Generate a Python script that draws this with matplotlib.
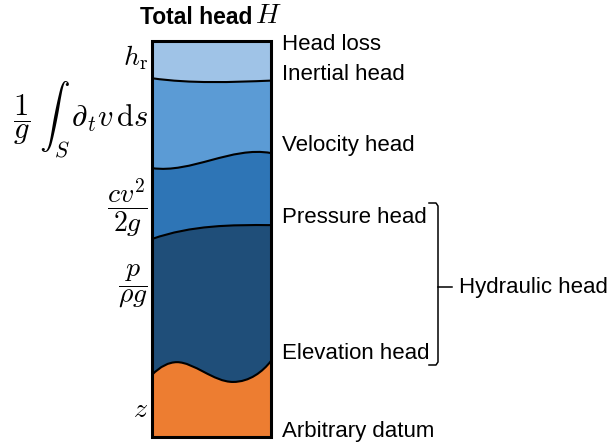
import numpy as np
import matplotlib.pyplot as plt
from matplotlib.path import Path
from matplotlib.patches import PathPatch, Rectangle

plt.rcParams['mathtext.fontset'] = 'cm'
plt.rcParams['font.family'] = ['Liberation Sans', 'DejaVu Sans']

# boundary curves across the column (x from 0 to 1, height 0..100 of total head)
# each curve: start point, two bezier control points, end point
curve_x = [0.0, 0.33, 0.67, 1.0]
top_head_loss = [90.6, 89.2, 89.6, 90.0]      # head loss / inertial head
top_inertial = [67.9, 66.5, 73.5, 71.7]      # inertial / velocity head
top_velocity = [50.0, 53.5, 53.6, 53.5]      # velocity / pressure head
# pressure / elevation head: three bezier segments (peak, trough, rise)
elev_x = [0.0, 0.07, 0.14, 0.21, 0.35, 0.52, 0.68, 0.82, 0.93, 1.0]
elev_y = [15.7, 17.8, 18.9, 18.9, 18.9, 13.9, 13.9, 13.9, 16.5, 19.2]

layer_colors = ['#9fc3e7', '#5b9bd5', '#2e75b6', '#1f4e79', '#ed7d31']

right_labels = ['Head loss', 'Inertial head', 'Velocity head',
                'Pressure head', 'Elevation head', 'Arbitrary datum']
right_label_y = [44, 75, 145, 217, 353, 431]   # pixel rows

left_labels = [r'$h_\mathrm{r}$',
               r'$\dfrac{1}{g}\;\int_S\,\partial_t v\,\mathrm{d}s$',
               r'$\dfrac{cv^2}{2g}$', r'$\dfrac{p}{\rho g}$', r'$z$']
left_label_y = [58, 120, 208, 286, 410]
left_label_size = [20, 22, 20, 20, 20]


def bez_path(xs, ys):
    verts = list(zip(xs, ys))
    codes = [Path.MOVETO] + [Path.CURVE4] * (len(verts) - 1)
    return verts, codes


def region(lower, upper):
    # closed path between lower curve and upper curve (upper reversed)
    lv, lc = lower
    uv, uc = upper
    uv_rev = uv[::-1]
    verts = lv + [uv_rev[0]] + uv_rev[1:] + [lv[0]]
    codes = lc + [Path.LINETO] + [Path.CURVE4] * (len(uv_rev) - 1) + [Path.CLOSEPOLY]
    return Path(verts, codes)


fig = plt.figure(figsize=(6.08, 4.44), dpi=100)
ax = fig.add_axes([152 / 608, 7 / 444, 119 / 608, 396 / 444])
ax.set_xlim(0, 1)
ax.set_ylim(0, 100)
ax.axis('off')

bottom = bez_path(curve_x, [0, 0, 0, 0])
top = bez_path(curve_x, [100, 100, 100, 100])
c1 = bez_path(curve_x, top_head_loss)
c2 = bez_path(curve_x, top_inertial)
c3 = bez_path(curve_x, top_velocity)
c4 = bez_path(elev_x, elev_y)

bounds = [top, c1, c2, c3, c4, bottom]
for i, col in enumerate(layer_colors):
    ax.add_patch(PathPatch(region(bounds[i + 1], bounds[i]), facecolor=col,
                           edgecolor='none'))
for c in [c1, c2, c3, c4]:
    ax.add_patch(PathPatch(Path(*c), facecolor='none', edgecolor='black', lw=1.5))
ax.add_patch(Rectangle((0, 0), 1, 100, facecolor='none', edgecolor='black',
                       lw=2.2, clip_on=False))

# overlay in pixel coordinates for labels and bracket
ov = fig.add_axes([0, 0, 1, 1])
ov.set_xlim(0, 608)
ov.set_ylim(444, 0)
ov.axis('off')
ov.patch.set_alpha(0)

ov.text(252, 18, 'Total head', fontsize=16.5, fontweight='bold',
        ha='right', va='center')
ov.text(255, 16, r'$H$', fontsize=20, ha='left', va='center')

for lab, y in zip(right_labels, right_label_y):
    ov.text(282, y, lab, fontsize=16, ha='left', va='center')

for lab, y, s in zip(left_labels, left_label_y, left_label_size):
    ov.text(148, y, lab, fontsize=s, ha='right', va='center')

# bracket for hydraulic head
ov.plot([429, 436, 438, 438, 436, 429], [203, 203, 206, 362, 365, 365],
        color='black', lw=1.1)
ov.plot([438, 452], [287, 287], color='black', lw=1.1)
ov.text(459, 287, 'Hydraulic head', fontsize=16, ha='left', va='center')

fig.savefig('out.png', dpi=100)
